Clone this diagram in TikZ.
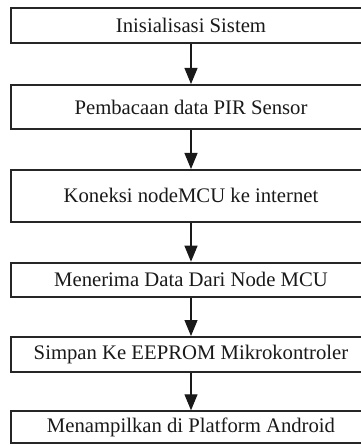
\documentclass[tikz,border=0pt]{standalone}
\usepackage{fontspec}
\setmainfont{Liberation Serif}
\usetikzlibrary{arrows.meta}
\begin{document}
\begin{tikzpicture}[x=1pt,y=1pt,
  stepbox/.style={draw=black!85, line width=2pt, minimum width=360pt, inner sep=0pt, font=\fontsize{20.7}{24}\selectfont, text=black!90},
  flow/.style={line width=1.1pt, black!90, -{Triangle[width=13pt,length=16pt]}}]
\useasboundingbox (0,0) rectangle (360,-446);
\node[stepbox, minimum height=34.7pt] (s1) at (191,-25.35) {Inisialisasi Sistem};
\node[stepbox, minimum height=44pt] (s2) at (191,-107) {Pembacaan data PIR Sensor};
\node[stepbox, minimum height=51.7pt] (s3) at (191,-195.85) {Koneksi nodeMCU ke internet};
\node[stepbox, minimum height=34.3pt] (s4) at (191,-279.85) {Menerima Data Dari Node MCU};
\node[stepbox, minimum height=35pt] (s5) at (191,-354.5) {Simpan Ke EEPROM Mikrokontroler};
\node[stepbox, minimum height=31.7pt] (s6) at (191,-427.15) {Menampilkan di Platform Android};
\draw[flow] (s1) -- (s2);
\draw[flow] (s2) -- (s3);
\draw[flow] (s3) -- (s4);
\draw[flow] (s4) -- (s5);
\draw[flow] (s5) -- (s6);
\end{tikzpicture}
\end{document}
